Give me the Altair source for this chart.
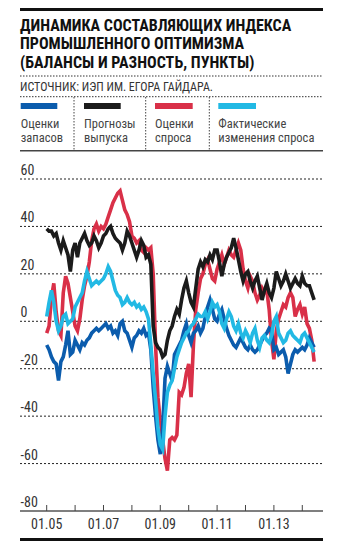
import altair as alt
import pandas as pd

TITLE = ["ДИНАМИКА СОСТАВЛЯЮЩИХ ИНДЕКСА", "ПРОМЫШЛЕННОГО ОПТИМИЗМА", "(БАЛАНСЫ И РАЗНОСТЬ, ПУНКТЫ)"]
SOURCE = "ИСТОЧНИК: ИЭП ИМ. ЕГОРА ГАЙДАРА."
series = ["Оценки запасов", "Прогнозы выпуска", "Оценки спроса", "Фактические изменения спроса"]
legend_lines = [["Оценки", "запасов"], ["Прогнозы", "выпуска"], ["Оценки", "спроса"], ["Фактические", "изменения спроса"]]
colors = ["#0b5cad", "#1b1b1b", "#d93048", "#22b9e4"]

start_year = 2005  # monthly data from Jan 2005
year_ticks = list(range(2005, 2015))
x_labels = ["01.05", "", "01.07", "", "01.09", "", "01.11", "", "01.13", ""]
y_ticks = [60, 40, 20, 0, -20, -40, -60, -80]
y_labels = ["60", "40", "20", "0", "-20", "-40", "-60", "-80"]

inventories = [
    -10, -12, -15, -17, -18, -25, -17, -15, -10, -4, -14, -13,
    -8, -10, -12, -9, -10, -8, -7, -5, -4, -3, -4, -3,
    -2, -1, -3, -2, -5, -4, -6, -1, 0, -4, -5, -8,
    -11, -7, -6, -4, -5, -3, -6, -5, -12, -28, -40, -50,
    -56, -45, -24, -19, -22, -25, -14, -12, -10, -8, -4, -1,
    -6, -9, -5, -4, -2, -5, -3, 2, 6, 9, 5, 1,
    0, 3, 5, 1, -3, -6, -8, -10, -11, -9, -7, -9,
    -11, -12, -10, -12, -13, -12, -10, -8, -6, -5, -3, -4,
    -12, -11, -14, -13, -12, -15, -22, -18, -14, -12, -13, -12,
    -11, -12, -10, -7, -9, -11,
]
output_forecast = [
    39, 38, 38, 36, 37, 33, 30, 34, 31, 28, 21, 30,
    33, 27, 33, 35, 37, 34, 32, 33, 36, 34, 31, 33,
    36, 37, 39, 40, 37, 35, 34, 33, 30, 33, 38, 36,
    33, 30, 27, 30, 34, 32, 27, 28, 24, -2, -9, -11,
    -12, -15, -14, -8, -4, -2, 2, 5, 3, 9, 14, 17,
    12, 8, 6, 14, 22, 25, 23, 26, 25, 28, 26, 30,
    30, 25, 19, 24, 27, 29, 31, 35, 31, 26, 21, 17,
    20, 21, 17, 14, 17, 19, 14, 9, 13, 16, 12, 10,
    14, 21, 18, 15, 17, 20, 17, 14, 16, 18, 16, 15,
    19, 16, 15, 15, 12, 9,
]
demand = [
    -5, -2, 10, 16, 4, -4, -6, 12, 19, 16, 10, 4,
    -2, -4, 1, 9, 15, 19, 25, 34, 39, 41, 38, 40,
    39, 41, 44, 47, 50, 52, 54, 55, 51, 47, 45, 42,
    36, 35, 33, 34, 30, 29, 31, 30, 31, 20, -10, -32,
    -42, -50, -58, -63, -50, -49, -50, -48, -30, -31, -28, -22,
    -18, -32, -10, 5, 12, 18, 20, 24, 26, 22, 18, 17,
    22, 25, 28, 24, 27, 30, 28, 27, 30, 33, 30, 22,
    17, 14, 19, 17, 12, 9, 11, 14, 12, 13, 5, -8,
    -16, -4, 1, 4, 7, 6, 10, 12, 10, 2, 5, 7,
    3, 6, -1, -3, -8, -17,
]
demand_change = [
    2, 8, 13, 8, 0, -4, -2, 2, 3, -1, 0, 1,
    6, 8, 10, 12, 17, 21, 18, 15, 16, 17, 16, 17,
    18, 20, 23, 21, 17, 13, 11, 10, 7, 8, 10, 8,
    7, 8, 6, 7, 5, 6, 4, 1, -10, -22, -33, -45,
    -52, -54, -40, -30, -27, -25, -20, -15, -12, -9, -7, -5,
    -4, -2, -1, 1, 3, 2, 2, 4, 1, 4, 8, 6,
    7, 4, -1, -3, 1, 4, 2, -2, -4, -1, -5, -7,
    -4, -6, -9, -5, -3, -8, -11, -7, -6, -8, -9, -6,
    0, 2, -5, -7, -9, -8, -5, -4, -6, -7, -8, -9,
    -6, -5, -7, -9, -11, -13,
]

all_values = [inventories, output_forecast, demand, demand_change]
rows = []
for name, vals in zip(series, all_values):
    for i, v in enumerate(vals):
        rows.append({"series": name, "t": start_year + i / 12.0, "value": v})
df = pd.DataFrame(rows)

W, H = 303, 332
FONT = "Liberation Sans Narrow, Arial Narrow, Roboto Condensed, Roboto, sans-serif"
xscale = alt.Scale(domain=[2004.06, 2014.729], nice=False, zero=False)
yscale = alt.Scale(domain=[-80, 60], nice=False, zero=False)

one = pd.DataFrame({"k": [0]})

def hrule(y, x0=0, x1=W, color="#222", width=1, dash=None):
    kw = dict(color=color, strokeWidth=width)
    if dash:
        kw["strokeDash"] = dash
    return alt.Chart(one).mark_rule(**kw).encode(
        x=alt.value(x0), x2=alt.value(x1), y=alt.value(y))

def vrule(x, y0, y1, color="#333", width=1, dash=None):
    kw = dict(color=color, strokeWidth=width)
    if dash:
        kw["strokeDash"] = dash
    return alt.Chart(one).mark_rule(**kw).encode(
        x=alt.value(x), y=alt.value(y0), y2=alt.value(y1))

def label(txt, x, y, size, color="#222", weight="normal", baseline="alphabetic"):
    kw = dict(align="left", baseline=baseline, fontSize=size, font=FONT,
              color=color, fontWeight=weight)
    return alt.Chart(one).mark_text(**kw).encode(
        x=alt.value(x), y=alt.value(y), text=alt.value(txt))

layers = []
# header decorations
layers.append(hrule(-170, width=4, color="#111"))
for j, line in enumerate(TITLE):
    layers.append(label(line, 0, -148.5 + j * 18.5, 16, color="#111", weight="bold"))
layers.append(hrule(-103, color="#333", dash=[1.5, 1.5]))
layers.append(label(SOURCE, 0, -88, 12, color="#333"))
layers.append(hrule(-82.3, color="#333", dash=[1.5, 1.5]))

legend_x = [0.7, 64, 135, 198.3]
legend_x2 = [37.3, 100.7, 172.7, 236]
for i in range(4):
    layers.append(alt.Chart(one).mark_rule(color=colors[i], strokeWidth=6).encode(
        x=alt.value(legend_x[i]), x2=alt.value(legend_x2[i]), y=alt.value(-73)))
    layers.append(label(legend_lines[i][0], legend_x[i], -51.5, 12.5, color="#444"))
    layers.append(label(legend_lines[i][1], legend_x[i], -37, 12.5, color="#444"))
for sx in [54, 125.7, 189.3]:
    layers.append(vrule(sx, -82, -29, color="#444", dash=[1.5, 1.5]))
layers.append(hrule(-28.3, color="#444", width=1.5))

# grid and y labels
grid_df = pd.DataFrame({"v": y_ticks[:-1]})
layers.append(alt.Chart(grid_df).mark_rule(color="#222", strokeWidth=1, strokeDash=[2, 2]).encode(
    y=alt.Y("v:Q", scale=yscale, axis=None), x=alt.value(0), x2=alt.value(W)))
ylab_df = pd.DataFrame({"v": y_ticks, "lab": y_labels})
layers.append(alt.Chart(ylab_df).mark_text(align="left", baseline="alphabetic", dy=-4,
                                           fontSize=14, font=FONT, color="#333").encode(
    y=alt.Y("v:Q", scale=yscale, axis=None), x=alt.value(0.5), text="lab:N"))

# data lines (draw order: demand, forecast, inventories, demand change)
for k in [2, 1, 0, 3]:
    sub = df[df.series == series[k]]
    layers.append(alt.Chart(sub).mark_line(color=colors[k], strokeWidth=3.6).encode(
        x=alt.X("t:Q", scale=xscale, axis=None),
        y=alt.Y("value:Q", scale=yscale, axis=None)))

# x axis
layers.append(hrule(H, color="#555", width=1.5))
xt_df = pd.DataFrame({"yr": year_ticks, "lab": x_labels})
layers.append(alt.Chart(xt_df).mark_rule(color="#444", strokeWidth=1).encode(
    x=alt.X("yr:Q", scale=xscale, axis=None), y=alt.value(H - 6), y2=alt.value(H)))
layers.append(alt.Chart(xt_df).mark_text(align="center", baseline="middle",
                                         fontSize=14, font=FONT, color="#333").encode(
    x=alt.X("yr:Q", scale=xscale, axis=None), y=alt.value(H + 14), text="lab:N"))
layers.append(hrule(H + 28.5, color="#111", width=3))

chart = alt.layer(*layers).properties(
    width=W, height=H,
    padding={"left": 12, "top": 171, "right": 25, "bottom": 30},
    autosize=alt.AutoSizeParams(type="none"),
).configure_view(stroke=None)

chart.save("out.html", embed_options={"renderer": "svg", "actions": False})
